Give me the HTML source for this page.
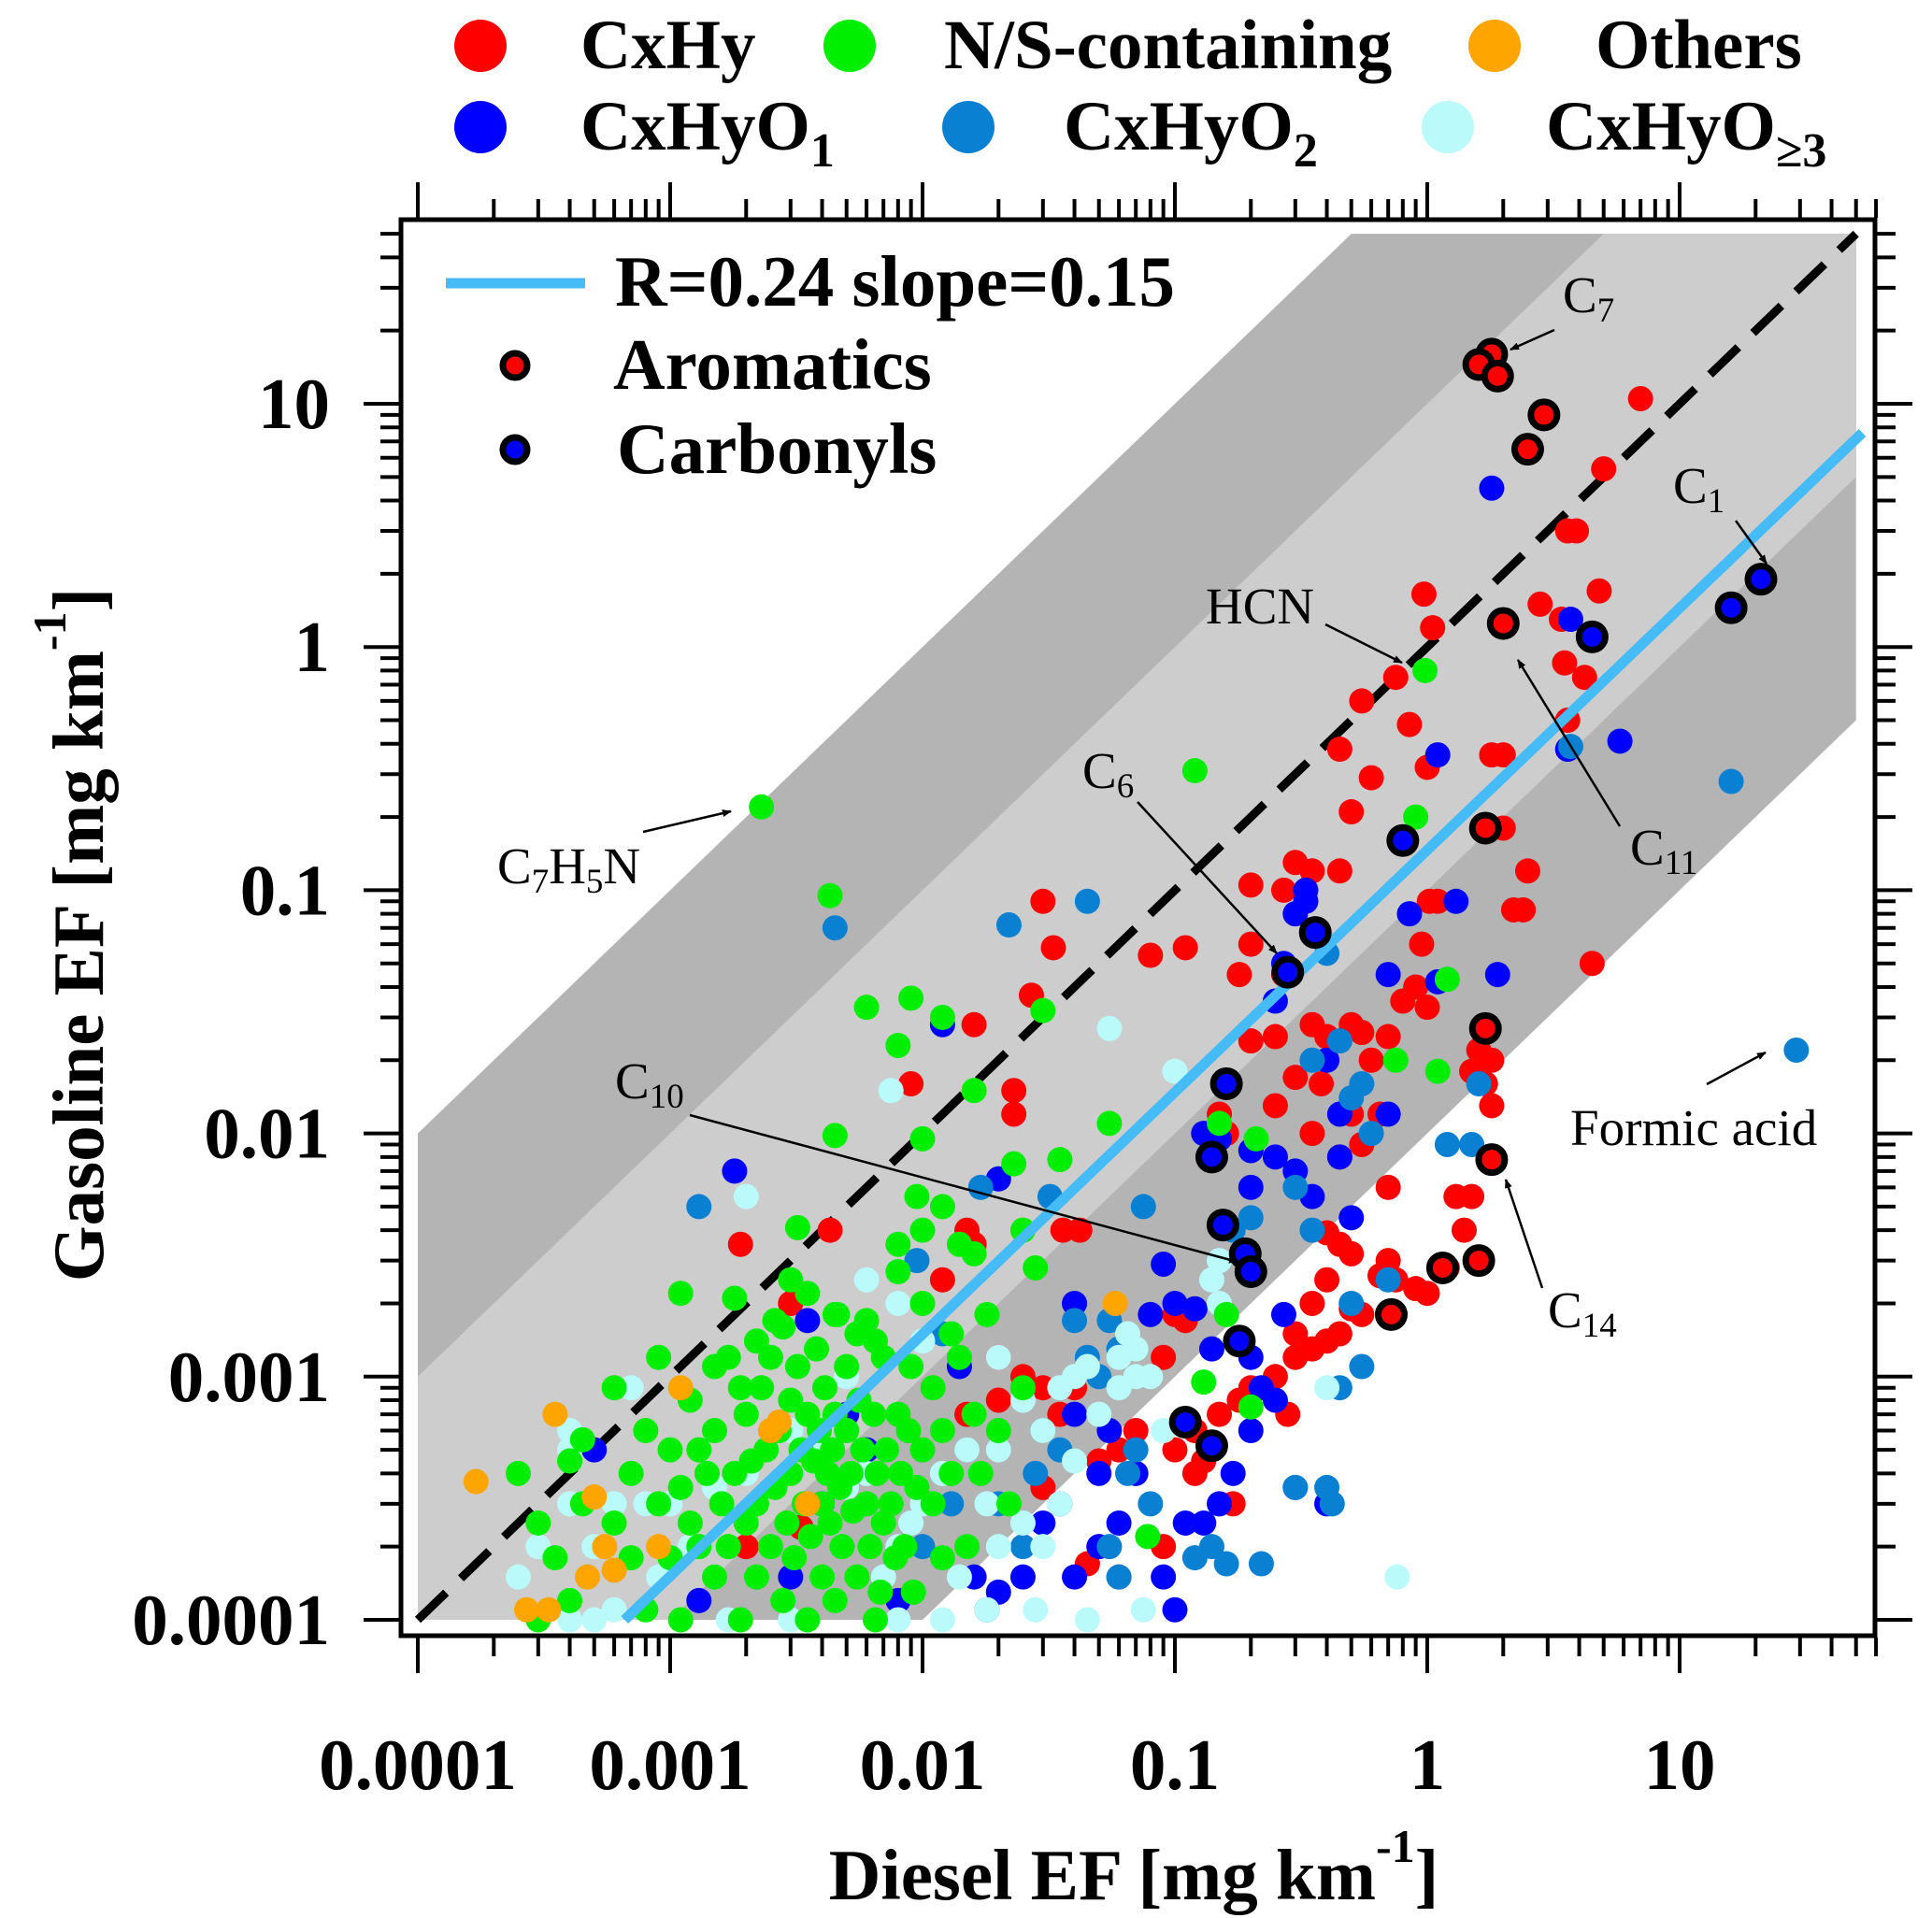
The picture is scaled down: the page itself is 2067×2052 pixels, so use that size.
<!DOCTYPE html>
<html><head><meta charset="utf-8"><style>
html,body{margin:0;padding:0;background:#fff;}
svg{display:block;font-family:"Liberation Serif",serif;}
</style></head><body>
<svg id="chart" width="2067" height="2052" viewBox="0 0 2067 2052" xmlns="http://www.w3.org/2000/svg">
<defs><clipPath id="plotclip"><rect x="431" y="237" width="1573" height="1511"/></clipPath></defs>
<g id="bands" clip-path="url(#plotclip)"></g>
<g id="lines" clip-path="url(#plotclip)"></g>
<g id="points" clip-path="url(#plotclip)"></g>
<g id="axes"></g>
<g font-size="55" fill="#000">
<text x="1672" y="334">C<tspan font-size="37" dy="10">7</tspan></text>
<line x1="1663" y1="353" x2="1616" y2="374" stroke="#000" stroke-width="2.5" marker-end="url(#ah)"/>
<text x="1790" y="538">C<tspan font-size="37" dy="10">1</tspan></text>
<line x1="1857" y1="557" x2="1890" y2="603" stroke="#000" stroke-width="2.5" marker-end="url(#ah)"/>
<text x="1290" y="667">HCN</text>
<line x1="1418" y1="668" x2="1500" y2="709" stroke="#000" stroke-width="2.5" marker-end="url(#ah)"/>
<text x="1744" y="925">C<tspan font-size="37" dy="10">11</tspan></text>
<line x1="1733" y1="884" x2="1624" y2="706" stroke="#000" stroke-width="2.5" marker-end="url(#ah)"/>
<text x="1158" y="843">C<tspan font-size="37" dy="10">6</tspan></text>
<line x1="1217" y1="858" x2="1366" y2="1020" stroke="#000" stroke-width="2.5" marker-end="url(#ah)"/>
<text x="532" y="945">C<tspan font-size="37" dy="10">7</tspan><tspan dy="-10">H</tspan><tspan font-size="37" dy="10">5</tspan><tspan dy="-10">N</tspan></text>
<line x1="688" y1="890" x2="782" y2="868" stroke="#000" stroke-width="2.5" marker-end="url(#ah)"/>
<text x="658" y="1175">C<tspan font-size="37" dy="10">10</tspan></text>
<line x1="738" y1="1193" x2="1324" y2="1350" stroke="#000" stroke-width="2.5" marker-end="url(#ah)"/>
<text x="1680" y="1225">Formic acid</text>
<line x1="1826" y1="1160" x2="1889" y2="1126" stroke="#000" stroke-width="2.5" marker-end="url(#ah)"/>
<text x="1656" y="1420">C<tspan font-size="37" dy="10">14</tspan></text>
<line x1="1650" y1="1378" x2="1611" y2="1262" stroke="#000" stroke-width="2.5" marker-end="url(#ah)"/>
</g>
<defs><marker id="ah" markerWidth="10" markerHeight="8" refX="9" refY="4" orient="auto" markerUnits="userSpaceOnUse" viewBox="0 0 10 8"><path d="M0,0 L10,4 L0,8 z" fill="#000"/></marker></defs>
<g font-weight="bold" font-size="77">
<line x1="477" y1="303" x2="626" y2="303" stroke="#45bcf8" stroke-width="11"/>
<text x="658" y="327">R=0.24 slope=0.15</text>
<circle cx="551" cy="391" r="13" fill="#ff0000" stroke="#000" stroke-width="7"/>
<text x="656" y="416">Aromatics</text>
<circle cx="551" cy="481" r="13" fill="#0000ff" stroke="#000" stroke-width="7"/>
<text x="660" y="506">Carbonyls</text>
</g>
<g font-weight="bold" font-size="75">
<circle cx="514" cy="49" r="28" fill="#ff0000"/>
<text x="621" y="73">CxHy</text>
<circle cx="909" cy="49" r="28" fill="#00ee00"/>
<text x="1010" y="73">N/S-containing</text>
<circle cx="1599" cy="49" r="28" fill="#ffa500"/>
<text x="1707" y="73">Others</text>
<circle cx="514" cy="136" r="28" fill="#0000ff"/>
<text x="621" y="160">CxHyO<tspan font-size="52" dy="18">1</tspan></text>
<circle cx="1036" cy="136" r="28" fill="#0a80d2"/>
<text x="1138" y="160">CxHyO<tspan font-size="52" dy="18">2</tspan></text>
<circle cx="1549" cy="136" r="28" fill="#bafafa"/>
<text x="1654" y="160">CxHyO<tspan font-size="52" dy="18">≥3</tspan></text>
</g>
<text x="1213" y="2032" text-anchor="middle" font-weight="bold" font-size="77">Diesel EF [mg km<tspan font-size="50" dy="-40">-1</tspan><tspan dy="40">]</tspan></text>
<text transform="translate(110,1000) rotate(-90)" text-anchor="middle" font-weight="bold" font-size="77">Gasoline EF [mg km<tspan font-size="50" dy="-40">-1</tspan><tspan dy="40">]</tspan></text>
<script>
const xTicks=[0.0001,0.001,0.01,0.1,1,10];
const xTickLabels=["0.0001","0.001","0.01","0.1","1","10"];
const yTicks=[0.0001,0.001,0.01,0.1,1,10];
const yTickLabels=["0.0001","0.001","0.01","0.1","1","10"];
const fitStart=[0.00066,0.0001];
const fitEnd=[53,7.6];
const oneToOne=[0.0001,50];
const bandLimit=50;
const cxhy=[[7,10.5],[5,5.4],[3.6,3],[3.9,3],[4.8,1.7],[2.8,1.5],[3.4,1.3],[3.5,0.86],[4.2,0.75],[3.6,0.5],[0.97,1.65],[1.05,1.2],[0.75,0.75],[0.55,0.6],[0.6,0.29],[0.85,0.48],[1.0,0.32],[0.45,0.38],[0.5,0.21],[0.3,0.13],[0.45,0.12],[0.27,0.1],[1.02,0.09],[0.95,0.06],[1.8,0.36],[2.0,0.36],[2.0,0.18],[2.5,0.12],[2.2,0.083],[2.4,0.083],[4.5,0.05],[1.1,0.09],
[0.2,0.105],[0.35,0.12],[0.3,0.08],[0.2,0.06],[0.18,0.045],[0.27,0.045],[0.35,0.028],[0.25,0.025],[0.2,0.024],[0.4,0.025],[0.5,0.028],[0.55,0.026],[0.6,0.02],[0.7,0.025],[0.8,0.035],[0.9,0.04],[1.0,0.033],[0.65,0.012],[0.5,0.012],[0.38,0.016],[0.3,0.017],[0.25,0.013],[0.35,0.01],[0.45,0.008],[0.55,0.009],[0.7,0.006],[1.5,0.018],[1.6,0.022],[1.7,0.016],[1.8,0.013],[1.8,0.02],[0.15,0.012],[0.16,0.01],
[0.03,0.09],[0.033,0.058],[0.08,0.054],[0.11,0.058],[0.027,0.037],[0.016,0.028],[0.009,0.016],[0.023,0.015],[0.023,0.012],[0.0019,0.0035],[0.0043,0.004],[0.042,0.004],[0.036,0.004],[0.0033,0.00024],[0.003,0.002],[0.015,0.004],[0.016,0.0035],[0.012,0.0025],[0.02,0.0012],[0.025,0.001],[0.03,0.0009],[0.06,0.0005],[0.07,0.0006],[0.05,0.00045],[0.06,0.00015],[0.045,0.00017],[0.09,0.0002],[0.002,0.0002],[0.004,0.0003],[0.005,0.00035],[0.015,0.0007],[0.02,0.0008],[0.035,0.0007],[0.04,0.0009],[0.03,0.00035],
[1.5,0.0055],[1.3,0.0055],[1.4,0.004],[1.2,0.0028],[1.0,0.0022],[0.9,0.0023],[0.7,0.003],[0.75,0.0025],[0.65,0.0026],[0.55,0.0018],[0.5,0.0019],[0.45,0.0015],[0.4,0.0014],[0.35,0.0013],[0.3,0.0012],[0.25,0.001],[0.2,0.0009],[0.18,0.0008],[0.15,0.0007],[0.12,0.0006],[0.1,0.0005],[0.12,0.0004],[0.17,0.0003],[0.13,0.00045],[0.4,0.0025],[0.45,0.0035],[0.4,0.0039],[0.5,0.0032],[0.35,0.002],[0.3,0.0015],[0.28,0.0007],[0.1,0.0018],[0.09,0.0012],[0.11,0.0017]];
const cxhyo1=[[1.8,4.5],[3.7,1.3],[5.8,0.41],[1.1,0.36],[3.6,0.38],[1.3,0.09],[0.85,0.08],[0.33,0.1],[0.3,0.08],[0.33,0.09],[1.9,0.045],[1.1,0.042],[0.7,0.045],[0.25,0.035],[0.27,0.05],[0.4,0.02],[0.25,0.008],[0.3,0.007],[0.45,0.008],[0.45,0.012],[0.7,0.012],[0.2,0.0085],[0.2,0.006],[0.13,0.01],[0.15,0.0095],[0.35,0.0055],[0.0035,0.0017],[0.0018,0.007],[0.012,0.028],[0.02,0.0065],[0.09,0.0029],[0.08,0.0018],[0.1,0.002],[0.12,0.0019],[0.14,0.0013],[0.2,0.0012],[0.22,0.0009],[0.25,0.0008],[0.2,0.0006],[0.17,0.0004],[0.15,0.0003],[0.13,0.00025],[0.11,0.00025],[0.09,0.00015],[0.1,0.00011],[0.3,0.00035],[0.4,0.0003],[0.27,0.0018],[0.5,0.0045],[0.05,0.0002],[0.04,0.00015],[0.03,0.00025],[0.035,0.0003],[0.025,0.00015],[0.02,0.00013],[0.018,0.00011],[0.016,0.00015],[0.06,0.00025],[0.07,0.0004],[0.055,0.0006],[0.05,0.0004],[0.04,0.0007],[0.04,0.002],[0.014,0.0011],[0.006,0.0005],[0.005,0.0007],[0.004,0.0003],[0.0013,0.00012],[0.003,0.00015],[0.0005,0.0005],[0.008,0.00012]];
const cxhyo2=[[16,0.28],[29,0.022],[3.7,0.39],[0.0045,0.07],[0.022,0.072],[0.045,0.09],[0.4,0.055],[0.35,0.02],[0.45,0.024],[0.55,0.016],[0.5,0.014],[0.6,0.01],[0.3,0.006],[0.2,0.0045],[0.17,0.004],[0.35,0.004],[0.5,0.002],[1.5,0.009],[1.6,0.016],[1.6,0.003],[1.2,0.009],[0.45,0.0009],[0.4,0.00035],[0.42,0.0003],[0.3,0.00035],[0.22,0.00017],[0.16,0.00017],[0.14,0.0002],[0.12,0.00018],[0.08,0.0003],[0.07,0.0005],[0.065,0.0004],[0.055,0.0002],[0.06,0.00015],[0.03,0.0006],[0.035,0.0005],[0.028,0.0004],[0.025,0.0002],[0.02,0.0003],[0.015,0.0005],[0.013,0.0003],[0.01,0.0002],[0.0013,0.005],[0.0095,0.003],[0.012,0.0015],[0.04,0.0017],[0.055,0.0017],[0.075,0.005],[0.032,0.0055],[0.017,0.006],[0.55,0.0011],[0.7,0.0025],[0.05,0.001],[0.045,0.0012],[0.06,0.0013]];
const cxhyo3=[[0.055,0.027],[0.1,0.018],[0.0075,0.015],[0.002,0.0055],[0.15,0.003],[0.14,0.0025],[0.15,0.002],[0.008,0.002],[0.006,0.0025],[0.005,0.001],[0.01,0.0014],[0.02,0.0012],[0.025,0.0008],[0.035,0.0009],[0.04,0.001],[0.045,0.0011],[0.06,0.0012],[0.07,0.001],[0.08,0.001],[0.06,0.0009],[0.05,0.0007],[0.03,0.0006],[0.02,0.0005],[0.015,0.0005],[0.012,0.0004],[0.01,0.0003],[0.009,0.00025],[0.008,0.0002],[0.007,0.00015],[0.006,0.0004],[0.005,0.00035],[0.004,0.0005],[0.003,0.0006],[0.002,0.0004],[0.0015,0.00035],[0.0012,0.0002],[0.001,0.0003],[0.0009,0.00015],[0.0008,0.0003],[0.0006,0.0003],[0.0005,0.0002],[0.0004,0.0005],[0.0004,0.0003],[0.0003,0.0002],[0.00025,0.00015],[0.0005,0.0001],[0.0004,0.0001],[0.0006,0.00011],[0.0017,0.0001],[0.003,0.0001],[0.008,0.0001],[0.018,0.00011],[0.028,0.00011],[0.045,0.0001],[0.075,0.00011],[0.76,0.00015],[0.4,0.0009],[0.03,0.0002],[0.025,0.00025],[0.02,0.0002],[0.018,0.0003],[0.012,0.0001],[0.014,0.00015],[0.0007,0.0009],[0.0004,0.0006],[0.065,0.0015],[0.07,0.0013],[0.09,0.0006],[0.035,0.0003],[0.04,0.00045]];
const nsContaining=[[0.0023,0.22],[0.0043,0.095],[0.12,0.31],[0.98,0.8],[0.9,0.2],[0.006,0.033],[0.009,0.036],[0.008,0.023],[0.012,0.03],[0.03,0.032],[0.016,0.015],[0.01,0.0095],[0.0045,0.0098],[0.023,0.0075],[0.035,0.0078],[0.055,0.011],[0.15,0.011],[0.21,0.0095],[0.75,0.02],[1.2,0.043],[1.1,0.018],[0.0032,0.0041],[0.0095,0.0055],[0.012,0.005],[0.025,0.004],[0.028,0.0028],[0.014,0.0035],[0.01,0.004],[0.008,0.0035],[0.016,0.0032],[0.0026,0.0017],[0.0011,0.0022],[0.0018,0.0021],[0.16,0.0018],[0.2,0.00075],[0.13,0.00095],[0.078,0.00022],
[0.0003,0.00025],[0.00035,0.00018],[0.0004,0.00045],[0.00045,0.0003],[0.0004,0.00012],[0.0006,0.00025],[0.0007,0.0004],[0.0007,0.00018],[0.0008,0.0006],[0.0008,0.00011],[0.0009,0.0003],[0.001,0.0005],[0.001,0.00018],[0.0011,0.00035],[0.0011,0.0001],[0.0012,0.0008],[0.0012,0.00025],[0.0013,0.0002],[0.0013,0.0005],[0.0014,0.0004],[0.0015,0.00015],[0.0015,0.0006],[0.0016,0.0003],[0.0017,0.0012],[0.0017,0.0002],[0.0018,0.0004],[0.0019,0.0001],[0.002,0.0007],[0.002,0.00025],[0.0021,0.00045],[0.0022,0.0003],[0.0022,0.00015],[0.0023,0.0009],[0.0024,0.0005],[0.0025,0.0002],[0.0025,0.0012],[0.0026,0.00035],[0.0027,0.0006],[0.0028,0.00012],[0.0029,0.00025],[0.003,0.0008],[0.003,0.0004],[0.0031,0.00018],[0.0032,0.0011],[0.0033,0.0005],[0.0034,0.0003],[0.0035,0.0007],[0.0035,0.0001],[0.0036,0.00022],[0.0037,0.00045],[0.0038,0.0013],[0.0039,0.0006],[0.004,0.0003],[0.004,0.00015],[0.0041,0.0009],[0.0042,0.0004],[0.0043,0.00025],[0.0044,0.0005],[0.0045,0.0007],[0.0045,0.00012],[0.0046,0.0018],[0.0047,0.00035],[0.0048,0.0002],[0.005,0.0006],[0.005,0.0011],[0.0052,0.0004],[0.0053,0.00028],[0.0055,0.00015],[0.0056,0.0008],[0.0058,0.0005],[0.006,0.0003],[0.006,0.0017],[0.0062,0.0002],[0.0064,0.0007],[0.0065,0.0001],[0.0066,0.0004],[0.0068,0.00013],[0.007,0.0012],[0.007,0.00025],[0.0072,0.0005],[0.0075,0.0003],[0.0078,0.00018],[0.008,0.0007],[0.008,0.0027],[0.0082,0.0004],[0.0085,0.0002],[0.0088,0.0006],[0.009,0.0011],[0.0092,0.00013],[0.0095,0.00035],[0.01,0.0005],[0.01,0.002],[0.011,0.0009],[0.011,0.0003],[0.012,0.0006],[0.012,0.00018],[0.013,0.0004],[0.013,0.0015],[0.014,0.0012],[0.015,0.0002],[0.016,0.0007],[0.017,0.0004],[0.018,0.0018],[0.02,0.0006],[0.022,0.0003],[0.025,0.0009],[0.003,0.0025],[0.0035,0.0022],[0.0045,0.0018],[0.0055,0.0015],[0.0065,0.0014],[0.0028,0.0016],[0.0022,0.0014],[0.0019,0.0009],[0.0015,0.0011],[0.0009,0.0012],[0.0006,0.0009],[0.00045,0.00055],[0.0003,0.0001],[0.00025,0.0004]];
const others=[[0.00017,0.00037],[0.00027,0.00011],[0.00033,0.00011],[0.00035,0.0007],[0.0005,0.00032],[0.00047,0.00015],[0.00055,0.0002],[0.0006,0.00016],[0.0011,0.0009],[0.0035,0.0003],[0.0025,0.0006],[0.0027,0.00065],[0.058,0.002],[0.0009,0.0002]];
const aromatics=[[1.8,16],[1.6,14.5],[1.9,13],[2.9,9],[2.5,6.5],[2.0,1.25],[1.7,0.18],[1.7,0.027],[1.8,0.0078],[1.6,0.003],[1.15,0.0028],[0.72,0.0018]];
const carbonyls=[[21,1.9],[16,1.45],[4.5,1.1],[0.8,0.16],[0.36,0.067],[0.28,0.046],[0.16,0.016],[0.14,0.008],[0.155,0.0042],[0.19,0.0032],[0.2,0.0027],[0.18,0.0014],[0.11,0.00065],[0.14,0.00052]];

const NS="http://www.w3.org/2000/svg";
const X0=447,XD=270,Y0=1733,YD=260.2;
function sx(v){return X0+XD*Math.log10(v/1e-4);}
function sy(v){return Y0-YD*Math.log10(v/1e-4);}
function mk(tag,attrs,parent){const e=document.createElementNS(NS,tag);for(const k in attrs)e.setAttribute(k,attrs[k]);parent.appendChild(e);return e;}

const bands=document.getElementById('bands');
const L=bandLimit, m=1e-4;
function poly(pts){return pts.map(p=>sx(p[0])+','+sy(p[1])).join(' ');}
const darkBand=mk('polygon',{points:poly([[m,m],[m,m*100],[L/100,L],[L,L],[L,L/100],[m*100,m]]),fill:'#b4b4b4'},bands);


const lightBand=mk('polygon',{points:poly([[m,m],[m,m*10],[L/10,L],[L,L],[L,L/10],[m*10,m]]),fill:'#cdcdcd'},bands);



const lines=document.getElementById('lines');
const dash=mk('line',{x1:sx(oneToOne[0]),y1:sy(oneToOne[0]),x2:sx(oneToOne[1]),y2:sy(oneToOne[1]),stroke:'#000','stroke-width':9,'stroke-dasharray':'42,22'},lines);



const pts=document.getElementById('points');
function series(arr,color,name){
  const g=mk('g',{},pts);
  
  
  arr.forEach(p=>{
    const c=mk('circle',{cx:sx(p[0]),cy:sy(p[1]),r:13.5,fill:color},g);
    
    
  });
}
series(cxhy,'#ff0000','cxhy-series');
series(cxhyo1,'#0000ff','cxhyo1-series');
series(cxhyo2,'#0a80d2','cxhyo2-series');
series(cxhyo3,'#bafafa','cxhyo3-series');
series(nsContaining,'#00ee00','ns-series');
series(others,'#ffa500','others-series');

const fit=mk('line',{x1:sx(fitStart[0]),y1:sy(fitStart[1]),x2:sx(fitEnd[0]),y2:sy(fitEnd[1]),stroke:'#45bcf8','stroke-width':11},pts);



function ringed(arr,color,name){
  const g=mk('g',{},pts);
  
  
  arr.forEach(p=>{
    const c=mk('circle',{cx:sx(p[0]),cy:sy(p[1]),r:14,fill:color,stroke:'#000','stroke-width':7},g);
    
    
  });
}
ringed(aromatics,'#ff0000','aromatics-series');
ringed(carbonyls,'#0000ff','carbonyls-series');

const axes=document.getElementById('axes');
const frame=mk('rect',{x:429,y:235,width:1577,height:1515,fill:'none',stroke:'#000','stroke-width':5},axes);


const L1=427,R1=2008,T1=233,B1=1752;
for(let d=-4;d<=1;d++){
  for(let k=1;k<=9;k++){
    const v=k*Math.pow(10,d);
    const len=(k===1)?38:20;
    const X=sx(v),Y=sy(v);
    if(X<=R1){
      const t1=mk('line',{x1:X,y1:B1,x2:X,y2:B1+len,stroke:'#000','stroke-width':4},axes);
      
      
      const t2=mk('line',{x1:X,y1:T1,x2:X,y2:T1-len,stroke:'#000','stroke-width':4},axes);
      
      
    }
    if(Y>=T1){
      const t3=mk('line',{x1:L1,y1:Y,x2:L1-len,y2:Y,stroke:'#000','stroke-width':4},axes);
      
      
      const t4=mk('line',{x1:R1,y1:Y,x2:R1+len,y2:Y,stroke:'#000','stroke-width':4},axes);
      
      
    }
  }
}
xTicks.forEach((v,i)=>{
  const t=mk('text',{x:sx(v),y:1914,'text-anchor':'middle','font-weight':'bold','font-size':77},axes);
  t.textContent=xTickLabels[i];
  
  
});
yTicks.forEach((v,i)=>{
  const t=mk('text',{x:353,y:sy(v)+26,'text-anchor':'end','font-weight':'bold','font-size':77},axes);
  t.textContent=yTickLabels[i];
  
  
});
</script>
</svg>
</body></html>
